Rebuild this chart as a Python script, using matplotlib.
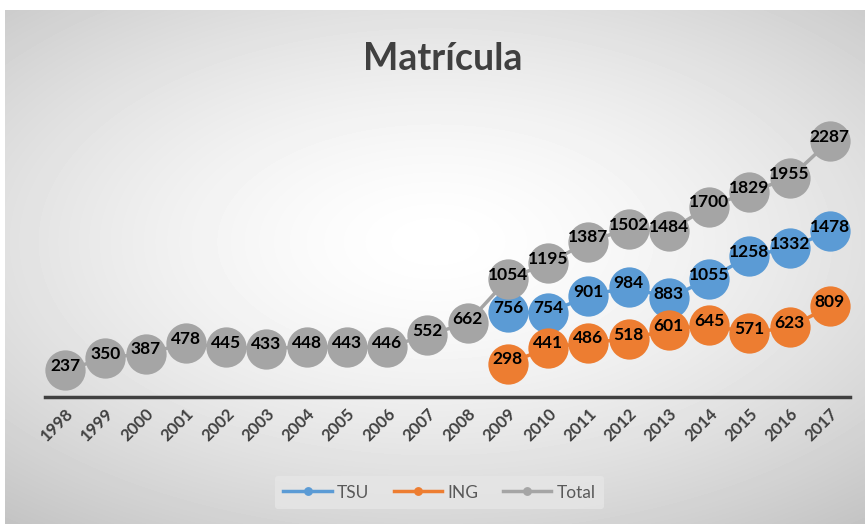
import matplotlib.pyplot as plt
import numpy as np

years = [str(y) for y in range(1998, 2018)]
total = [237, 350, 387, 478, 445, 433, 448, 443, 446, 552, 662,
         1054, 1195, 1387, 1502, 1484, 1700, 1829, 1955, 2287]
tsu = [756, 754, 901, 984, 883, 1055, 1258, 1332, 1478]
ing = [298, 441, 486, 518, 601, 645, 571, 623, 809]

series = [('TSU', tsu, '#5B9BD5'), ('ING', ing, '#ED7D31'), ('Total', total, '#A5A5A5')]

W, H = 865, 524
fig = plt.figure(figsize=(W / 100, H / 100), dpi=100)
fig.patch.set_facecolor('white')

# radial gradient background of the chart area
bg = fig.add_axes([5 / W, 0, 1 - 5 / W, 1 - 10 / H])
yy, xx = np.mgrid[0:H - 10, 0:W - 5]
cx, cy = (W - 5) / 2, (H - 10) * 0.45
r = np.sqrt(((xx - cx) / cx) ** 2 + ((yy - cy) / cy) ** 2) / np.sqrt(2)
shade = 1 - 0.2 * np.clip(r, 0, 1.1) ** 1.5
bg.imshow(shade, cmap='gray', vmin=0, vmax=1, aspect='auto')
bg.axis('off')

fig.text(0.512, 0.888, 'Matrícula', ha='center', va='center', fontsize=27,
         fontweight='bold', color='#404040', family='Lato')

ax = fig.add_axes([45 / W, (H - 397) / H, 805 / W, 280 / H])
ax.patch.set_alpha(0)
x = np.arange(len(years))

for name, vals, col in series:
    xs = x[len(years) - len(vals):]
    ax.plot(xs, vals, color=col, lw=2.5, marker='o', markersize=29,
            markeredgewidth=0, label=name)
    for xi, v in zip(xs, vals):
        ax.annotate(str(v), (xi, v), xytext=(0, 3), textcoords='offset points',
                    ha='center', va='center', fontsize=12.5, fontweight='bold',
                    color='black', family='Lato', zorder=10)

ax.set_xlim(-0.5, len(years) - 0.5)
ax.set_ylim(0, 2500)
ax.set_yticks([])
ax.set_xticks(x)
ax.set_xticklabels(years, rotation=45, ha='right', rotation_mode='anchor',
                   fontsize=12, fontweight='bold', color='#404040', family='Lato')
ax.tick_params(axis='x', length=0, pad=6)
for s in ['top', 'right', 'left']:
    ax.spines[s].set_visible(False)
ax.spines['bottom'].set_color('#404040')
ax.spines['bottom'].set_linewidth(2.5)

leg = fig.legend(handles=ax.get_lines(), loc='center', bbox_to_anchor=(0.508, 0.06),
                 ncol=3, frameon=True, handlelength=2.8,
                 columnspacing=1.4, handletextpad=0.3, markerscale=0.22,
                 prop={'family': 'Lato', 'size': 12.5}, borderpad=0.5)
leg.get_frame().set_facecolor('#e6e6e6')
leg.get_frame().set_edgecolor('none')
for t in leg.get_texts():
    t.set_color('#595959')

fig.savefig('out.png', dpi=100)
